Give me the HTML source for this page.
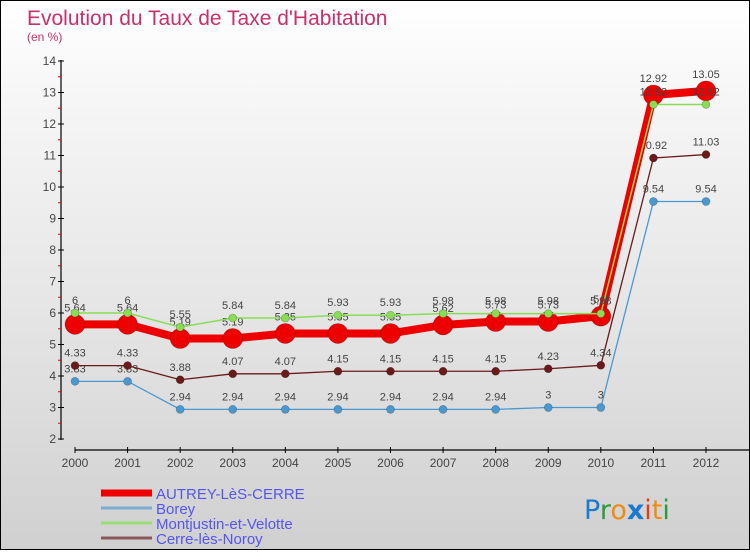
<!DOCTYPE html>
<html><head><meta charset="utf-8">
<style>
html,body{margin:0;padding:0}
body{width:750px;height:550px;overflow:hidden;font-family:"Liberation Sans",sans-serif}
#wrap{position:relative;width:748px;height:548px;border:1px solid #000;background:linear-gradient(#ffffff,#f5f5f5 20%,#e6e6e6 55%,#d0d0d0)}
</style></head><body>
<div id="wrap">
<svg id="chart" width="748" height="548" xmlns="http://www.w3.org/2000/svg">
<text x="26" y="24" font-size="21" fill="#c8306a">Evolution du Taux de Taxe d'Habitation</text>
<text x="26" y="40" font-size="12" fill="#c8306a">(en %)</text>
<g id="axes"></g>
<g id="series"></g>
<g id="legend"></g>
<text x="583" y="518" font-size="27" font-family="DejaVu Sans, sans-serif"><tspan fill="#1a7ad0">P</tspan><tspan fill="#2a9a3a">r</tspan><tspan fill="#f08a10">o</tspan><tspan fill="#1a7ad0" font-weight="bold">x</tspan><tspan fill="#e83a10">i</tspan><tspan fill="#f08a10">t</tspan><tspan fill="#2a9a3a">i</tspan></text>
</svg>
</div>
<script>
const years = [2000,2001,2002,2003,2004,2005,2006,2007,2008,2009,2010,2011,2012];
const yTicks = [2,3,4,5,6,7,8,9,10,11,12,13,14];
const autrey = [5.64,5.64,5.19,5.19,5.35,5.35,5.35,5.62,5.73,5.73,5.9,12.92,13.05];
const borey = [3.83,3.83,2.94,2.94,2.94,2.94,2.94,2.94,2.94,3,3,9.54,9.54];
const montjustin = [6,6,5.55,5.84,5.84,5.93,5.93,5.98,5.98,5.98,5.98,12.62,12.62];
const cerre = [4.33,4.33,3.88,4.07,4.07,4.15,4.15,4.15,4.15,4.23,4.34,10.92,11.03];
const seriesNames = ["AUTREY-LèS-CERRE","Borey","Montjustin-et-Velotte","Cerre-lès-Noroy"];

const NS="http://www.w3.org/2000/svg";
function xs(i){return 74+i*(705-74)/(years.length-1);}
function ys(v){return 438-(v-2)*(438-60)/12;}
function mk(tag,attrs,parent){const e=document.createElementNS(NS,tag);for(const k in attrs)e.setAttribute(k,attrs[k]);parent.appendChild(e);return e;}
const axes=document.getElementById('axes');
let a=mk('line',{x1:60,y1:59,x2:60,y2:439,stroke:'#000','stroke-width':1.2},axes);


yTicks.forEach(v=>{
  const y=ys(v);
  mk('line',{x1:57,y1:y,x2:63,y2:y,stroke:'#000'},axes);
  if(v<14)mk('line',{x1:57,y1:y-15.75,x2:60,y2:y-15.75,stroke:'#e00'},axes);
  const t=mk('text',{x:55,y:y+4,'font-size':12,fill:'#444','text-anchor':'end'},axes);
  t.textContent=v;
  
  
});
a=mk('line',{x1:74,y1:449,x2:748,y2:449,stroke:'#000','stroke-width':1.2},axes);


years.forEach((yr,i)=>{
  const x=xs(i);
  mk('line',{x1:x,y1:446,x2:x,y2:452,stroke:'#000'},axes);
  const t=mk('text',{x:x,y:466,'font-size':12,fill:'#444','text-anchor':'middle'},axes);
  t.textContent=yr;
  
  
});
const sg=document.getElementById('series');
const defs=[
 {d:borey,c:'#4a98d0',w:1.3,r:4,n:'borey'},
 {d:cerre,c:'#6a1a1a',w:1.3,r:4,n:'cerre-les-noroy'},
 {d:autrey,c:'#ee0000',w:8,r:10,n:'autrey-les-cerre'},
 {d:montjustin,c:'#88dd55',w:1.5,r:4,n:'montjustin-et-velotte'}
];
defs.forEach(s=>{
  const g=mk('g',{},sg);
  
  
  const pts=s.d.map((v,i)=>xs(i)+','+ys(v)).join(' ');
  const l=mk('polyline',{points:pts,fill:'none',stroke:s.c,'stroke-width':s.w,'stroke-linejoin':'round'},g);
  
  
  s.d.forEach((v,i)=>{
    const p=mk('circle',{cx:xs(i),cy:ys(v),r:s.r,fill:s.c,stroke:'rgba(0,0,0,0.25)','stroke-width':0.7},g);
    
    
    const t=mk('text',{x:xs(i),y:ys(v)-(s.n==='autrey-les-cerre'?13:9),'font-size':11,fill:'#444','text-anchor':'middle'},g);
    t.textContent=v;
    
    
  });
});
const lg=document.getElementById('legend');
const lc=['#ee0000','#7aaed0','#99dd77','#8a5a5a'];
const lw=[7,3,3,3];
seriesNames.forEach((n,i)=>{
  const y=492+i*15;
  const g=mk('g',{},lg);
  
  
  mk('line',{x1:100,y1:y,x2:151,y2:y,stroke:lc[i],'stroke-width':lw[i]},g);
  const t=mk('text',{x:155,y:y+6,'font-size':15,fill:'#5555ee'},g);
  t.textContent=n;
});
</script>
</body></html>
